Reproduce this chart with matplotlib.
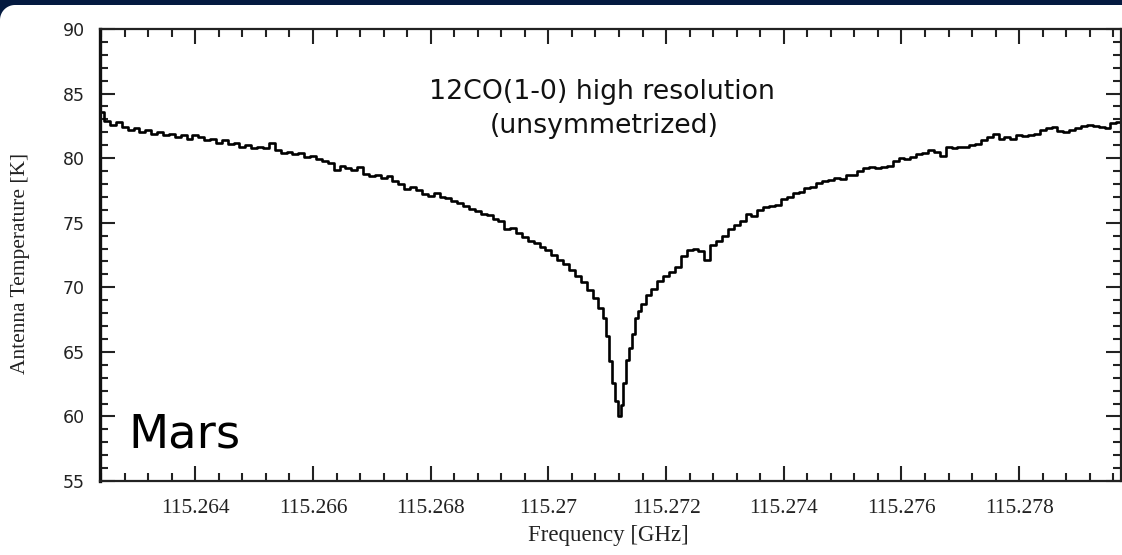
import numpy as np
import matplotlib
matplotlib.use("Agg")
import matplotlib.pyplot as plt
from matplotlib.patches import Rectangle, Polygon
from matplotlib.ticker import MultipleLocator, FixedLocator, FixedFormatter

# ---------------- data ----------------
freq_ghz = [
    115.2624, 115.2625, 115.2626, 115.2627, 115.2628, 115.2629, 115.2630, 115.2631, 115.2632, 115.2633,
    115.2634, 115.2635, 115.2636, 115.2637, 115.2638, 115.2639, 115.2640, 115.2641, 115.2642, 115.2643,
    115.2644, 115.2645, 115.2646, 115.2647, 115.2648, 115.2649, 115.2650, 115.2651, 115.2652, 115.2653,
    115.2654, 115.2655, 115.2656, 115.2657, 115.2658, 115.2659, 115.2660, 115.2661, 115.2662, 115.2663,
    115.2664, 115.2665, 115.2666, 115.2667, 115.2668, 115.2669, 115.2670, 115.2671, 115.2672, 115.2673,
    115.2674, 115.2675, 115.2676, 115.2677, 115.2678, 115.2679, 115.2680, 115.2681, 115.2682, 115.2683,
    115.2684, 115.2685, 115.2686, 115.2687, 115.2688, 115.2689, 115.2690, 115.2691, 115.2692, 115.2693,
    115.2694, 115.2695, 115.2696, 115.2697, 115.2698, 115.2699, 115.2700, 115.2701, 115.2702, 115.2703,
    115.2704, 115.2705, 115.2706, 115.2707, 115.2708, 115.2709,
    115.27095, 115.2710, 115.27105, 115.2711, 115.27115, 115.2712, 115.27125, 115.2713, 115.27135,
    115.2714, 115.27145, 115.2715, 115.27155,
    115.2716, 115.2717, 115.2718, 115.2719, 115.2720, 115.2721, 115.2722, 115.2723, 115.2724, 115.2725,
    115.2726, 115.2727, 115.2728, 115.2729, 115.2730, 115.2731, 115.2732, 115.2733, 115.2734, 115.2735,
    115.2736, 115.2737, 115.2738, 115.2739, 115.2740, 115.2741, 115.2742, 115.2743, 115.2744, 115.2745,
    115.2746, 115.2747, 115.2748, 115.2749, 115.2750, 115.2751, 115.2752, 115.2753, 115.2754, 115.2755,
    115.2756, 115.2757, 115.2758, 115.2759, 115.2760, 115.2761, 115.2762, 115.2763, 115.2764, 115.2765,
    115.2766, 115.2767, 115.2768, 115.2769, 115.2770, 115.2771, 115.2772, 115.2773, 115.2774, 115.2775,
    115.2776, 115.2777, 115.2778, 115.2779, 115.2780, 115.2781, 115.2782, 115.2783, 115.2784, 115.2785,
    115.2786, 115.2787, 115.2788, 115.2789, 115.2790, 115.2791, 115.2792, 115.2793, 115.2794, 115.2795,
    115.2796, 115.2797,
]
antenna_temp_k = [
    83.6, 82.9, 82.6, 82.8, 82.4, 82.2, 82.3, 82.0, 82.2, 81.9,
    82.0, 81.8, 81.9, 81.6, 81.8, 81.5, 81.8, 81.6, 81.4, 81.5,
    81.2, 81.4, 81.1, 81.2, 80.9, 81.0, 80.8, 80.9, 80.8, 81.2,
    80.6, 80.4, 80.5, 80.3, 80.4, 80.1, 80.2, 79.9, 79.8, 79.6,
    79.1, 79.4, 79.2, 79.1, 79.3, 78.8, 78.6, 78.7, 78.5, 78.6,
    78.2, 78.0, 77.6, 77.8, 77.5, 77.2, 77.1, 77.3, 77.0, 76.9,
    76.7, 76.5, 76.3, 76.1, 75.9, 75.7, 75.6, 75.3, 75.1, 74.5,
    74.6, 74.2, 73.9, 73.6, 73.4, 73.1, 72.9, 72.5, 72.1, 71.8,
    71.3, 70.9, 70.4, 69.8, 69.2, 68.4,
    67.6, 66.2, 64.3, 62.6, 61.2, 60.0, 60.9, 62.6, 64.4,
    65.3, 66.4, 67.6, 68.2,
    68.7, 69.4, 69.9, 70.5, 70.9, 71.2, 71.6, 72.4, 72.9, 73.0,
    72.8, 72.1, 73.3, 73.6, 74.0, 74.5, 74.8, 75.1, 75.7, 75.5,
    76.0, 76.2, 76.3, 76.4, 76.8, 77.0, 77.3, 77.4, 77.7, 77.8,
    78.1, 78.2, 78.3, 78.5, 78.4, 78.7, 78.7, 79.0, 79.2, 79.3,
    79.2, 79.3, 79.4, 79.8, 80.0, 79.9, 80.1, 80.3, 80.4, 80.6,
    80.5, 80.2, 80.9, 80.8, 80.9, 80.9, 81.0, 81.1, 81.4, 81.6,
    81.9, 81.5, 81.6, 81.5, 81.8, 81.7, 81.8, 81.9, 82.2, 82.3,
    82.4, 82.1, 82.0, 82.2, 82.3, 82.5, 82.6, 82.5, 82.4, 82.3,
    82.7, 82.8,
]
xtick_values = [115.264, 115.266, 115.268, 115.270, 115.272, 115.274, 115.276, 115.278]
xtick_labels = ["115.264", "115.266", "115.268", "115.27", "115.272", "115.274", "115.276", "115.278"]
ytick_values = [55, 60, 65, 70, 75, 80, 85, 90]
title_line1 = "12CO(1-0) high resolution"
title_line2 = "(unsymmetrized)"
planet = "Mars"

# ---------------- figure ----------------
W, H = 1122, 555
fig = plt.figure(figsize=(W / 100, H / 100), dpi=100, facecolor="white")

def fx(px):
    return px / W

def fy(py):
    return 1 - py / H

# dark frame: top band + rounded top-left corner
navy = "#041a40"
fig.add_artist(Rectangle((0, fy(5)), 1, 5 / H, transform=fig.transFigure,
                         facecolor=navy, edgecolor="none", zorder=0))
r = 15
cx, cy = r, 5 + r
ang = np.linspace(np.pi, 1.5 * np.pi, 30)
arc = [(fx(cx + r * np.cos(a)), fy(cy + r * np.sin(a))) for a in ang]
corner = [(fx(0), fy(5))] + arc
fig.add_artist(Polygon(corner, closed=True, transform=fig.transFigure,
                       facecolor=navy, edgecolor="none", zorder=0))

ax_left, ax_right, ax_top, ax_bot = 100, 1121, 29, 481
ax = fig.add_axes([fx(ax_left), fy(ax_bot), fx(ax_right - ax_left), (ax_bot - ax_top) / H])
ax.set_facecolor("white")

ax.plot(freq_ghz, antenna_temp_k, color="black", lw=1.9, drawstyle="steps-mid")

ax.set_xlim(115.26238, 115.27973)
ax.set_ylim(55, 90)

ax.xaxis.set_major_locator(FixedLocator(xtick_values))
ax.xaxis.set_major_formatter(FixedFormatter(xtick_labels))
ax.xaxis.set_minor_locator(MultipleLocator(0.0004))
ax.yaxis.set_major_locator(FixedLocator(ytick_values))
ax.yaxis.set_minor_locator(MultipleLocator(1))

tick_col = "#222222"
ax.tick_params(axis="both", which="both", direction="in", top=True, right=True, color=tick_col)
ax.tick_params(axis="both", which="major", length=11, width=1.5)
ax.tick_params(axis="both", which="minor", length=5.5, width=1.5)
ax.tick_params(axis="x", which="major", pad=13, labelsize=15.5, labelcolor=tick_col)
ax.tick_params(axis="y", which="major", pad=11, labelsize=12.5, labelcolor=tick_col)
for lab in ax.get_xticklabels():
    lab.set_fontfamily("Liberation Serif")
for lab in ax.get_yticklabels():
    lab.set_fontfamily("DejaVu Sans")

for side in ["top", "right", "bottom"]:
    ax.spines[side].set_linewidth(1.6)
    ax.spines[side].set_color(tick_col)
ax.spines["left"].set_linewidth(2.4)
ax.spines["left"].set_color("#111111")

fig.text(fx(608), fy(535), "Frequency [GHz]", ha="center", va="center",
         fontsize=16.5, family="Liberation Serif", color=tick_col)
fig.text(fx(21), fy(263), "Antenna Temperature [K]", ha="center", va="center",
         rotation=90, fontsize=15.5, family="Liberation Serif", color=tick_col)

fig.text(fx(602), fy(92), title_line1, ha="center", va="center",
         fontsize=19.3, family="DejaVu Sans", color="#111111")
fig.text(fx(604), fy(126), title_line2, ha="center", va="center",
         fontsize=19.3, family="DejaVu Sans", color="#111111")

fig.text(fx(128), fy(447), planet, ha="left", va="baseline",
         fontsize=33.5, family="DejaVu Sans", color="black")

fig.savefig("out.png", dpi=100, facecolor="white")
